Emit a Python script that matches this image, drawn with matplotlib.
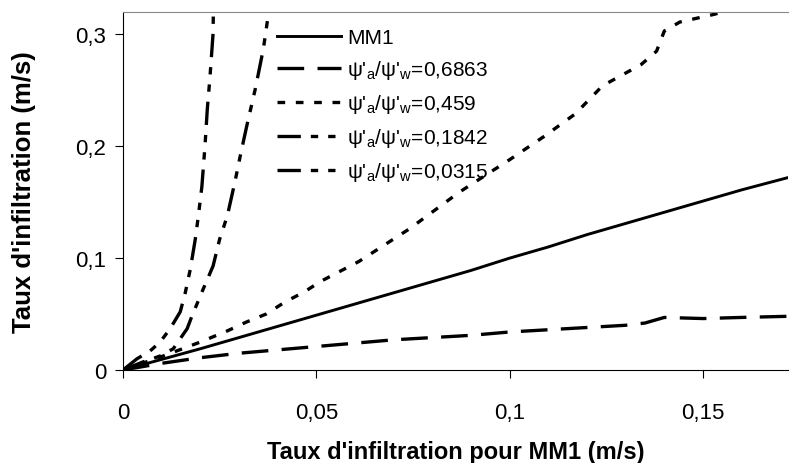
import matplotlib
matplotlib.use('Agg')
import matplotlib.pyplot as plt
from matplotlib.ticker import FuncFormatter

plt.rcParams['font.family'] = ['Liberation Sans', 'DejaVu Sans']
plt.rcParams['mathtext.fontset'] = 'custom'
plt.rcParams['mathtext.rm'] = 'Liberation Sans'

# MM1 reference
x_mm1 = [0, 0.01, 0.02, 0.03, 0.04, 0.05, 0.06, 0.07, 0.08, 0.09, 0.10,
         0.11, 0.12, 0.13, 0.14, 0.15, 0.16, 0.172]
y_mm1 = [0, 0.0095, 0.019, 0.029, 0.039, 0.049, 0.059, 0.069, 0.079, 0.089, 0.100,
         0.110, 0.121, 0.131, 0.141, 0.151, 0.161, 0.172]

# psi'a/psi'w = 0,6863
x_a = [0, 0.01, 0.02, 0.03, 0.04, 0.05, 0.06, 0.07, 0.08, 0.09, 0.10,
       0.11, 0.12, 0.13, 0.135, 0.14, 0.15, 0.16, 0.172]
y_a = [0, 0.006, 0.011, 0.015, 0.018, 0.021, 0.024, 0.027, 0.029, 0.031, 0.034,
       0.036, 0.038, 0.040, 0.042, 0.047, 0.046, 0.047, 0.048]

# psi'a/psi'w = 0,459
x_b = [0, 0.01, 0.02, 0.027, 0.032, 0.037, 0.042, 0.047, 0.051, 0.056, 0.061,
       0.074, 0.087, 0.100, 0.109, 0.117, 0.124, 0.134, 0.138, 0.140, 0.144,
       0.153, 0.165]
y_b = [0, 0.012, 0.025, 0.035, 0.043, 0.050, 0.061, 0.070, 0.079, 0.088, 0.097,
       0.126, 0.159, 0.188, 0.209, 0.229, 0.254, 0.273, 0.285, 0.303, 0.311,
       0.318, 0.330]

# psi'a/psi'w = 0,1842
x_c = [0, 0.005, 0.0096, 0.013, 0.0166, 0.0178, 0.0207, 0.0233, 0.025, 0.027,
       0.029, 0.0303, 0.032, 0.0342, 0.0363, 0.0376, 0.038]
y_c = [0, 0.007, 0.0125, 0.019, 0.037, 0.048, 0.072, 0.093, 0.117, 0.138,
       0.169, 0.191, 0.218, 0.251, 0.287, 0.318, 0.330]

# psi'a/psi'w = 0,0315
x_d = [0, 0.0036, 0.007, 0.0096, 0.0122, 0.0148, 0.0161, 0.0174, 0.0187, 0.0195,
       0.0204, 0.0212, 0.0218, 0.0225, 0.0233, 0.0234]
y_d = [0, 0.010, 0.017, 0.025, 0.037, 0.052, 0.069, 0.090, 0.117, 0.138,
       0.164, 0.200, 0.233, 0.262, 0.301, 0.330]

labels = ['MM1',
          r"ψ'$_\mathregular{a}$/ψ'$_\mathregular{w}$=0,6863",
          r"ψ'$_\mathregular{a}$/ψ'$_\mathregular{w}$=0,459",
          r"ψ'$_\mathregular{a}$/ψ'$_\mathregular{w}$=0,1842",
          r"ψ'$_\mathregular{a}$/ψ'$_\mathregular{w}$=0,0315"]

fig = plt.figure(figsize=(7.92, 4.64), dpi=100)
ax = fig.add_axes([0.1553, 0.2004, 0.8397, 0.7716])

lw = 2.4
ax.plot(x_mm1, y_mm1, color='black', lw=2.1, label=labels[0])
ax.plot(x_a, y_a, color='black', lw=lw, linestyle=(0, (8, 4)), label=labels[1])
ax.plot(x_b, y_b, color='black', lw=lw, linestyle=(0, (2.3, 3.2)), label=labels[2])
ax.plot(x_c, y_c, color='black', lw=lw, linestyle=(0, (7, 3, 2.2, 3, 2.2, 3)), label=labels[3])
ax.plot(x_d, y_d, color='black', lw=lw, linestyle=(0, (7, 3, 2.2, 3, 2.2, 3)), label=labels[4])

ax.set_xlim(0, 0.172)
ax.set_ylim(0, 0.32)
ax.set_xticks([0, 0.05, 0.1, 0.15])
ax.set_yticks([0, 0.1, 0.2, 0.3])
fmt = FuncFormatter(lambda v, p: ('%g' % v).replace('.', ','))
ax.xaxis.set_major_formatter(fmt)
ax.yaxis.set_major_formatter(fmt)
ax.tick_params(labelsize=16, direction='out', length=6, width=0.8)
ax.tick_params(axis='x', pad=17)
ax.tick_params(axis='y', pad=6)

ax.spines['right'].set_visible(False)
ax.spines['top'].set_color('#888888')
ax.spines['top'].set_linestyle((0, (1, 1)))
ax.spines['top'].set_linewidth(0.8)

ax.set_xlabel("Taux d'infiltration pour MM1 (m/s)", fontsize=17, fontweight='bold',
              labelpad=12)
ax.set_ylabel("Taux d'infiltration (m/s)", fontsize=18.5, fontweight='bold',
              labelpad=28)

ax.legend(loc='upper left', bbox_to_anchor=(0.231, 0.954), frameon=False,
          fontsize=15, handlelength=3.1, handletextpad=0.3, labelspacing=0.52,
          borderpad=0, borderaxespad=0)

fig.savefig('out.png', dpi=100)
